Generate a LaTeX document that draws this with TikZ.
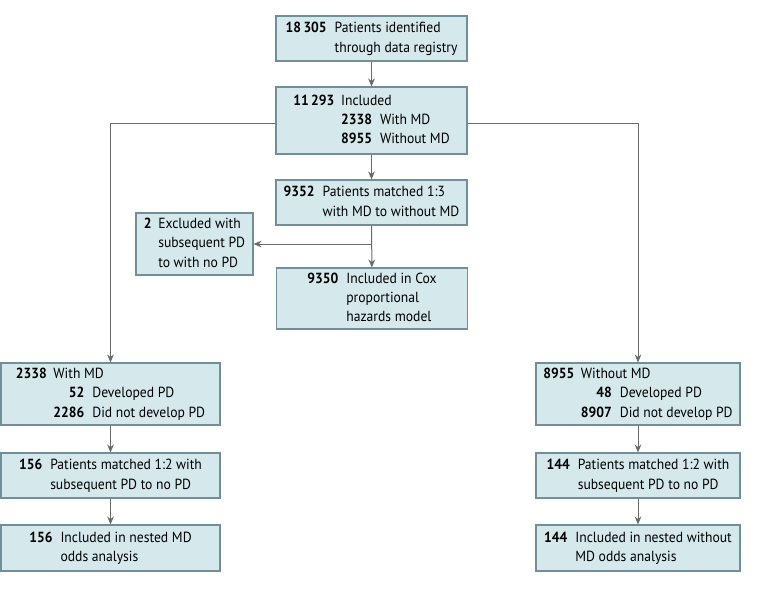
\documentclass[tikz,border=0pt]{standalone}
\usepackage{fontspec}
\setmainfont{PT Sans}[FakeStretch=0.93]
\usetikzlibrary{arrows.meta}

\definecolor{boxfill}{HTML}{D5E9ED}
\definecolor{boxline}{HTML}{6F9098}
\definecolor{linkgray}{HTML}{6A6A6A}

\newcommand{\num}[1]{\textbf{#1}}

\begin{document}
\begin{tikzpicture}[x = 0.75pt, y = -0.75pt,
		box/.style = {draw = boxline, fill = boxfill, line width = 0.8pt, inner sep = 0pt,
			align = center, font = \fontsize{11}{14.5}\selectfont},
		link/.style = {draw = linkgray, line width = 0.75pt},
		arrow/.style = {link, -{Stealth[length = 6pt, width = 5pt]}}]
	\useasboundingbox (0, 0) rectangle (780, 593);

	% center column
	\node [box, minimum width = 143.25pt, minimum height = 33.75pt] (reg) at (371.5, 38.5)
		{\begin{tabular}{@{}r@{\hspace{6pt}}l@{}}\num{18\,305} & Patients identified\\ & through data registry\end{tabular}};
	\node [box, minimum width = 143.25pt, minimum height = 50.25pt] (incl) at (371.5, 120.5)
		{\begin{tabular}{@{}r@{\hspace{5pt}}r@{\hspace{6pt}}l@{}}\num{11\,293} & \multicolumn{2}{@{}l@{}}{Included}\\ & \num{2338} & With MD\\ & \num{8955} & Without MD\end{tabular}};
	\node [box, minimum width = 143.25pt, minimum height = 33.75pt] (match) at (371.5, 202.5)
		{\begin{tabular}{@{}r@{\hspace{6pt}}l@{}}\num{9352} & Patients matched 1:3\\ & with MD to without MD\end{tabular}};
	\node [box, minimum width = 87.75pt, minimum height = 46.5pt] (excl) at (194.5, 244)
		{\begin{tabular}{@{}r@{\hspace{5pt}}l@{}}\num{2} & Excluded with\\ & subsequent PD\\ & to with no PD\end{tabular}};
	\node [box, minimum width = 143.25pt, minimum height = 45.75pt] (cox) at (372, 298.5)
		{\begin{tabular}{@{}r@{\hspace{6pt}}l@{}}\num{9350} & Included in Cox\\ & proportional\\ & hazards model\end{tabular}};

	% with MD column
	\node [box, minimum width = 164.25pt, minimum height = 46.5pt] (withmd) at (110.5, 394)
		{\begin{tabular}{@{}r@{\hspace{5pt}}r@{\hspace{6pt}}l@{}}\num{2338} & \multicolumn{2}{@{}l@{}}{With MD}\\ & \num{52} & Developed PD\\ & \num{2286} & Did not develop PD\end{tabular}};
	\node [box, minimum width = 164.25pt, minimum height = 33.75pt] (mdmatch) at (110.5, 475.5)
		{\begin{tabular}{@{}r@{\hspace{6pt}}l@{}}\num{156} & Patients matched 1:2 with\\ & subsequent PD to no PD\end{tabular}};
	\node [box, minimum width = 164.25pt, minimum height = 34.5pt] (mdnest) at (110.5, 548)
		{\begin{tabular}{@{}r@{\hspace{6pt}}l@{}}\num{156} & Included in nested MD\\ & odds analysis\end{tabular}};

	% without MD column
	\node [box, minimum width = 153pt, minimum height = 46.5pt] (nomd) at (638, 394)
		{\begin{tabular}{@{}r@{\hspace{5pt}}r@{\hspace{6pt}}l@{}}\num{8955} & \multicolumn{2}{@{}l@{}}{Without MD}\\ & \num{48} & Developed PD\\ & \num{8907} & Did not develop PD\end{tabular}};
	\node [box, minimum width = 153pt, minimum height = 33.75pt] (nomdmatch) at (638, 475.5)
		{\begin{tabular}{@{}r@{\hspace{6pt}}l@{}}\num{144} & Patients matched 1:2 with\\ & subsequent PD to no PD\end{tabular}};
	\node [box, minimum width = 153pt, minimum height = 34.5pt] (nomdnest) at (638, 548)
		{\begin{tabular}{@{}r@{\hspace{6pt}}l@{}}\num{144} & Included in nested without\\ & MD odds analysis\end{tabular}};

	\coordinate (split) at (match.south |- excl.east);

	\draw [arrow] (reg) -- (incl);
	\draw [arrow] (incl) -- (match);
	\draw [arrow] (match) -- (cox);
	\draw [arrow] (split) -- (excl);

	\draw [arrow] (incl.west |- 0, 123) -| (withmd.north);
	\draw [arrow] (incl.east |- 0, 123) -| (nomd.north);

	\draw [arrow] (withmd) -- (mdmatch);
	\draw [arrow] (mdmatch) -- (mdnest);
	\draw [arrow] (nomd) -- (nomdmatch);
	\draw [arrow] (nomdmatch) -- (nomdnest);
\end{tikzpicture}
\end{document}
